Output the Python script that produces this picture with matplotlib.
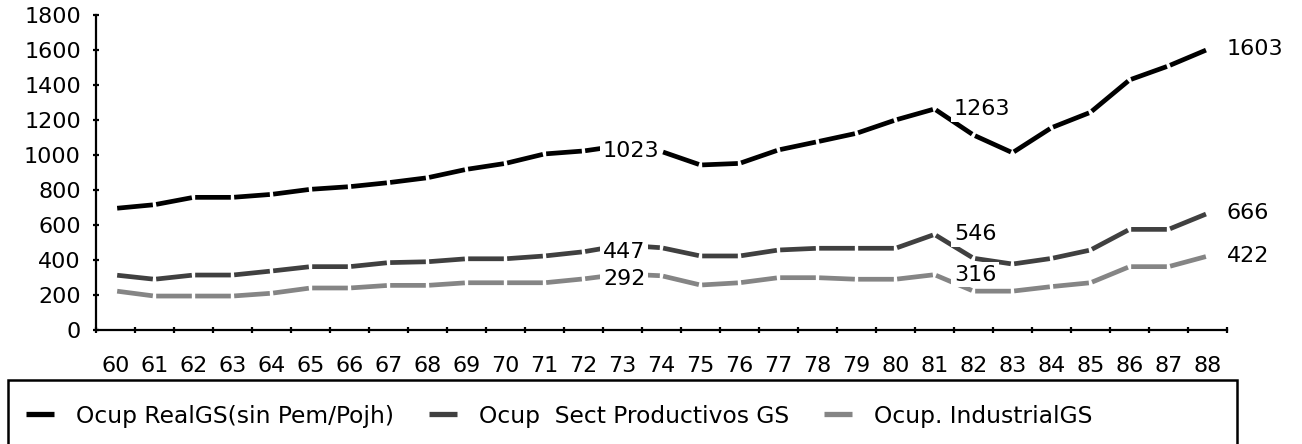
import matplotlib
matplotlib.use("Agg")
import matplotlib.pyplot as plt
from matplotlib.lines import Line2D
from matplotlib.patches import Rectangle, FancyArrowPatch
import numpy as np

plt.rcParams['font.family'] = ['DejaVu Sans']

years = ["60", "61", "62", "63", "64", "65", "66", "67", "68", "69", "70", "71", "72", "73", "74",
         "75", "76", "77", "78", "79", "80", "81", "82", "83", "84", "85", "86", "87", "88"]

ocup_real = [695, 716, 758, 758, 775, 804, 819, 842, 870, 918, 952, 1006, 1023, 1055, 1020,
             943, 952, 1029, 1076, 1124, 1200, 1263, 1114, 1013, 1156, 1244, 1429, 1509, 1603]
ocup_sect = [314, 290, 314, 314, 337, 362, 362, 385, 390, 407, 407, 423, 447, 485, 470,
             423, 423, 457, 467, 467, 467, 546, 410, 377, 409, 457, 575, 575, 666]
ocup_ind = [223, 194, 194, 194, 210, 240, 240, 255, 255, 270, 270, 270, 292, 320, 310,
            257, 270, 299, 299, 290, 290, 316, 222, 222, 248, 270, 362, 362, 422]

series_names = ["Ocup RealGS(sin Pem/Pojh)", "Ocup  Sect Productivos GS", "Ocup. IndustrialGS"]
series_values = [ocup_real, ocup_sect, ocup_ind]
series_colors = ["#000000", "#404040", "#858585"]
labeled_years = ["72", "81", "88"]

yticks = list(range(0, 1801, 200))

W, H = 1302, 444
fig = plt.figure(figsize=(W / 100, H / 100), dpi=100)
ax = fig.add_axes([96 / W, 1 - 330 / H, 1131 / W, 315 / H])

x = np.arange(len(years))
for vals, col in zip(series_values, series_colors):
    for i in range(len(vals) - 1):
        seg = FancyArrowPatch((x[i], vals[i]), (x[i + 1], vals[i + 1]),
                              arrowstyle='-', color=col, lw=3.4,
                              shrinkA=1.2, shrinkB=1.2, capstyle='butt',
                              transform=ax.transData, zorder=2)
        ax.add_patch(seg)
    for ly in labeled_years:
        i = years.index(ly)
        ax.annotate(f"{vals[i]}", xy=(x[i], vals[i]), xytext=(14, 0),
                    textcoords='offset points', ha='left', va='center',
                    fontsize=16, color='black', zorder=6,
                    bbox=dict(boxstyle='square,pad=0.12', fc='white', ec='none'))

ax.set_xlim(-0.5, len(years) - 0.5)
ax.set_ylim(0, 1800)
ax.set_yticks(yticks)
ax.set_yticklabels([str(v) for v in yticks])
ax.set_xticks(x)
ax.set_xticklabels(years)
ax.set_xticks(np.arange(-0.5, len(years), 1.0), minor=True)

for s in ['top', 'right']:
    ax.spines[s].set_visible(False)
for s in ['left', 'bottom']:
    ax.spines[s].set_linewidth(1.6)

ax.tick_params(axis='y', direction='inout', length=4.5, width=1.6, labelsize=16, pad=8.6)
ax.tick_params(axis='x', which='major', length=0, labelsize=16, pad=18.5)
ax.tick_params(axis='x', which='minor', direction='inout', length=4.5, width=1.6)

handles = [Line2D([0], [0], color=c, lw=3.8, solid_capstyle='butt') for c in series_colors]
fsz = 16.8
em = fsz * 100 / 72
fig.legend(handles, series_names, loc='center left',
           bbox_to_anchor=(26 / W, 1 - 416 / H), ncol=3, frameon=False,
           borderpad=0, borderaxespad=0, fontsize=fsz,
           handlelength=28 / em, handletextpad=22 / em, columnspacing=35 / em)

fig.add_artist(Rectangle((8 / W, -0.2), (1237 - 8) / W, (1 - 380 / H) + 0.2,
                         transform=fig.transFigure, fill=False, ec='black',
                         lw=1.8, clip_on=False))

fig.savefig("out.png", dpi=100)
